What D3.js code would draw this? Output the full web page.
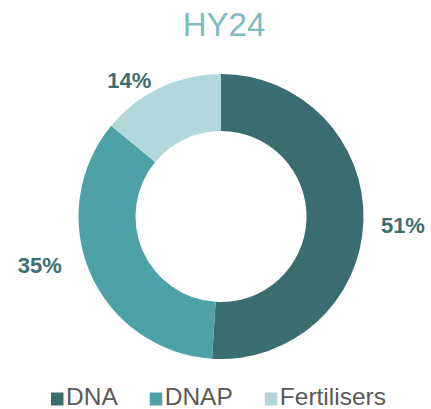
<!DOCTYPE html>
<html>
<head>
<meta charset="utf-8">
<script src="https://cdn.jsdelivr.net/npm/d3@7"></script>
<style>
  body { margin: 0; background: #fff; }
  svg { display: block; font-family: Arial, "Liberation Sans", sans-serif; }
</style>
</head>
<body>
<svg width="431" height="409"></svg>
<script>
// data
const title = 'HY24';
const categories = ['DNA', 'DNAP', 'Fertilisers'];
const shares = [51, 35, 14];
const colors = ['#3a6d70', '#4ea1a6', '#b2d8db'];

// layout
const cx = 221, cy = 216.5;
const outerR = 142.5, innerR = 85.5;
const labelR = 180;
// manual nudges for the percent labels (the source chart had hand placed labels)
const labelShift = [[2, 3], [-16, -23], [-15, 26]];

const svg = d3.select('svg');

svg.append('text')
  .attr('x', 224).attr('y', 36)
  .attr('text-anchor', 'middle')
  .attr('font-size', 33)
  .attr('fill', '#7ebcc0')
  .text(title);

const data = categories.map((c, i) => ({ name: c, value: shares[i], color: colors[i], shift: labelShift[i] }));

const pie = d3.pie().value(d => d.value).sort(null);
const arc = d3.arc().innerRadius(innerR).outerRadius(outerR);
const labelArc = d3.arc().innerRadius(labelR).outerRadius(labelR);

const g = svg.append('g').attr('transform', `translate(${cx},${cy})`);

const slices = pie(data);

g.selectAll('path')
  .data(slices)
  .enter()
  .append('path')
  .attr('d', arc)
  .attr('fill', d => d.data.color);

g.selectAll('text.pct')
  .data(slices)
  .enter()
  .append('text')
  .attr('class', 'pct')
  .attr('transform', d => {
    const c = labelArc.centroid(d);
    return `translate(${c[0] + d.data.shift[0]},${c[1] + d.data.shift[1]})`;
  })
  .attr('text-anchor', 'middle')
  .attr('dy', '0.36em')
  .attr('font-size', 22)
  .attr('font-weight', 'bold')
  .attr('fill', '#3d6e71')
  .text(d => d.data.value + '%');

// legend
const legend = svg.append('g').attr('transform', 'translate(0,405)');
let x = 51;
data.forEach(d => {
  legend.append('rect')
    .attr('x', x).attr('y', -12.5)
    .attr('width', 12.5).attr('height', 13)
    .attr('fill', d.color);
  const t = legend.append('text')
    .attr('x', x + 15).attr('y', 0)
    .attr('font-size', 24.5)
    .attr('fill', '#595959')
    .text(d.name);
  x = x + 15 + t.node().getComputedTextLength() + 32;
});
</script>
</body>
</html>
